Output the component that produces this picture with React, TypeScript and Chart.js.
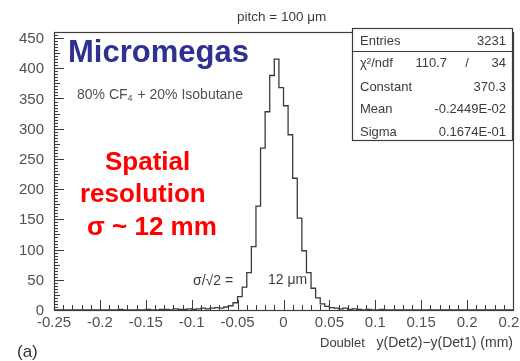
import { useEffect, useRef } from "react";
import { Chart, registerables } from "chart.js";

Chart.register(...registerables);

// Histogram of y(Det2) - y(Det1), 100 bins of 0.005 mm between -0.25 and 0.25
const BIN_LOW = -0.25;
const BIN_WIDTH = 0.005;
const COUNTS = [
  0, 0, 0, 0, 0, 0, 0, 0, 0, 0,
  0, 0, 0, 0, 0, 1, 0, 0, 0, 0,
  0, 1, 0, 0, 1, 1, 0, 2, 1, 1,
  2, 1, 2, 3, 2, 3, 4, 3, 5, 7,
  12, 22, 38, 62, 105, 172, 268, 328, 388, 415,
  368, 338, 290, 218, 152, 98, 62, 36, 20, 10,
  6, 4, 3, 2, 3, 1, 2, 1, 0, 1,
  0, 0, 1, 0, 0, 0, 0, 0, 0, 0,
  0, 0, 0, 0, 0, 0, 0, 0, 0, 0,
  0, 0, 0, 0, 0, 0, 0, 0, 0, 0,
];

const X_TICKS = [-0.25, -0.2, -0.15, -0.1, -0.05, 0, 0.05, 0.1, 0.15, 0.2, 0.25];
const X_TICK_LABELS = ["-0.25", "-0.2", "-0.15", "-0.1", "-0.05", "0", "0.05", "0.1", "0.15", "0.2", "0.25"];
const Y_TICKS = [0, 50, 100, 150, 200, 250, 300, 350, 400, 450];
const Y_TICK_LABELS = ["0", "50", "100", "150", "200", "250", "300", "350", "400", "450"];

const X_MIN = -0.25;
const X_MAX = 0.25;
const Y_MIN = 0;
const Y_MAX = 460;

// Fit summary box
const STAT_NAMES = ["Entries", "\u03c7\u00b2/ndf", "Constant", "Mean", "Sigma"];
const STAT_VALUES = ["3231", "34", "370.3", "-0.2449E-02", "0.1674E-01"];
const CHI2 = "110.7";

const INK = "#3c3c3c";
const LABEL_INK = "#505050";
const BASE_FONT = '"Liberation Sans", Arial, sans-serif';

const framePlugin = {
  id: "rootFrame",
  afterDraw(chart: any) {
    const { ctx, chartArea } = chart;
    const xs = chart.scales.x;
    const ys = chart.scales.y;
    const { left, right, top, bottom } = chartArea;
    ctx.save();

    // frame
    ctx.strokeStyle = INK;
    ctx.lineWidth = 1.2;
    ctx.strokeRect(left + 0.5, top + 0.5, right - left, bottom - top);

    // x-axis ticks (inside, pointing up)
    ctx.lineWidth = 1;
    ctx.beginPath();
    for (let k = 0; k <= 50; k++) {
      const v = X_MIN + k * 0.01;
      const px = Math.round(xs.getPixelForValue(v)) + 0.5;
      const len = k % 5 === 0 ? 10 : 5;
      ctx.moveTo(px, bottom);
      ctx.lineTo(px, bottom - len);
    }
    // y-axis ticks (inside, pointing right)
    for (let v = 0; v <= 455; v += 5) {
      const py = Math.round(ys.getPixelForValue(v)) + 0.5;
      const len = v % 50 === 0 ? 10 : v % 25 === 0 ? 6 : 4;
      ctx.moveTo(left, py);
      ctx.lineTo(left + len, py);
    }
    ctx.stroke();

    // tick labels
    ctx.fillStyle = LABEL_INK;
    ctx.font = `15px ${BASE_FONT}`;
    ctx.textBaseline = "middle";
    ctx.textAlign = "center";
    X_TICKS.forEach((v, i) => {
      ctx.fillText(X_TICK_LABELS[i], xs.getPixelForValue(v), 323);
    });
    ctx.textAlign = "right";
    Y_TICKS.forEach((v, i) => {
      ctx.fillText(Y_TICK_LABELS[i], 44, ys.getPixelForValue(v) + 1);
    });

    // header
    ctx.fillStyle = INK;
    ctx.textAlign = "left";
    ctx.font = `13.5px ${BASE_FONT}`;
    ctx.fillText("pitch = 100 \u03bcm", 237, 17);

    // stats box
    ctx.fillStyle = "#ffffff";
    ctx.fillRect(352, 28, 160, 112);
    ctx.strokeStyle = INK;
    ctx.lineWidth = 1.2;
    ctx.strokeRect(352.5, 28.5, 160, 112);
    ctx.beginPath();
    ctx.moveTo(352.5, 51.5);
    ctx.lineTo(512.5, 51.5);
    ctx.stroke();
    ctx.fillStyle = INK;
    ctx.font = `13px ${BASE_FONT}`;
    const rowY = [41, 63, 87, 109, 132];
    STAT_NAMES.forEach((name, i) => {
      ctx.textAlign = "left";
      ctx.fillText(name, 360, rowY[i]);
      ctx.textAlign = "right";
      ctx.fillText(STAT_VALUES[i], 506, rowY[i]);
    });
    ctx.textAlign = "right";
    ctx.fillText(CHI2, 447, rowY[1]);
    ctx.textAlign = "center";
    ctx.fillText("/", 467, rowY[1]);

    // gas mixture
    ctx.fillStyle = LABEL_INK;
    ctx.textAlign = "left";
    ctx.font = `14px ${BASE_FONT}`;
    let gx = 77;
    const p1 = "80% CF";
    ctx.fillText(p1, gx, 95);
    gx += ctx.measureText(p1).width;
    ctx.font = `9px ${BASE_FONT}`;
    ctx.fillText("4", gx, 99);
    gx += ctx.measureText("4").width + 1;
    ctx.font = `14px ${BASE_FONT}`;
    ctx.fillText(" + 20% Isobutane", gx, 95);

    // sigma/sqrt(2) annotation
    ctx.fillStyle = INK;
    ctx.fillText("\u03c3/\u221a2 =", 193, 281);
    ctx.fillText("12 \u03bcm", 268, 280);

    // x-axis title
    ctx.font = `13px ${BASE_FONT}`;
    ctx.fillText("Doublet", 320, 343);
    ctx.textAlign = "right";
    ctx.font = `14px ${BASE_FONT}`;
    ctx.fillText("y(Det2)\u2212y(Det1) (mm)", 513, 343);

    // panel tag
    ctx.textAlign = "left";
    ctx.font = `17px ${BASE_FONT}`;
    ctx.fillStyle = "#333333";
    ctx.fillText("(a)", 17, 352);

    // overlay headings
    ctx.textBaseline = "alphabetic";
    ctx.fillStyle = "#2e3192";
    ctx.font = `bold 31px ${BASE_FONT}`;
    ctx.fillText("Micromegas", 68, 62);

    ctx.fillStyle = "#ff0000";
    ctx.font = `bold 26px ${BASE_FONT}`;
    ctx.fillText("Spatial", 105, 170);
    ctx.fillText("resolution", 80, 202);
    ctx.fillText("\u03c3 ~ 12 mm", 87, 235);

    ctx.restore();
  },
};

export default function App() {
  const canvasRef = useRef<HTMLCanvasElement>(null);

  useEffect(() => {
    const canvas = canvasRef.current;
    if (!canvas) return;

    const points = COUNTS.map((c, i) => ({ x: BIN_LOW + i * BIN_WIDTH, y: c }));
    points.push({ x: BIN_LOW + COUNTS.length * BIN_WIDTH, y: COUNTS[COUNTS.length - 1] });

    const chart = new Chart(canvas, {
      type: "line",
      data: {
        datasets: [
          {
            data: points,
            stepped: "after",
            borderColor: "#3a3a3a",
            borderWidth: 1.3,
            pointRadius: 0,
            fill: false,
          },
        ],
      },
      options: {
        animation: false,
        responsive: false,
        devicePixelRatio: 1,
        layout: { padding: { left: 54, right: 7, top: 32, bottom: 51 } },
        plugins: {
          legend: { display: false },
          tooltip: { enabled: false },
          title: { display: false },
        },
        scales: {
          x: { type: "linear", min: X_MIN, max: X_MAX, display: false },
          y: { type: "linear", min: Y_MIN, max: Y_MAX, display: false },
        },
      },
      plugins: [framePlugin],
    });

    return () => chart.destroy();
  }, []);

  return (
    <div style={{ position: "fixed", left: 0, top: 0, width: 520, height: 361, background: "#ffffff" }}>
      <canvas ref={canvasRef} width={520} height={361} style={{ display: "block" }} />
    </div>
  );
}
